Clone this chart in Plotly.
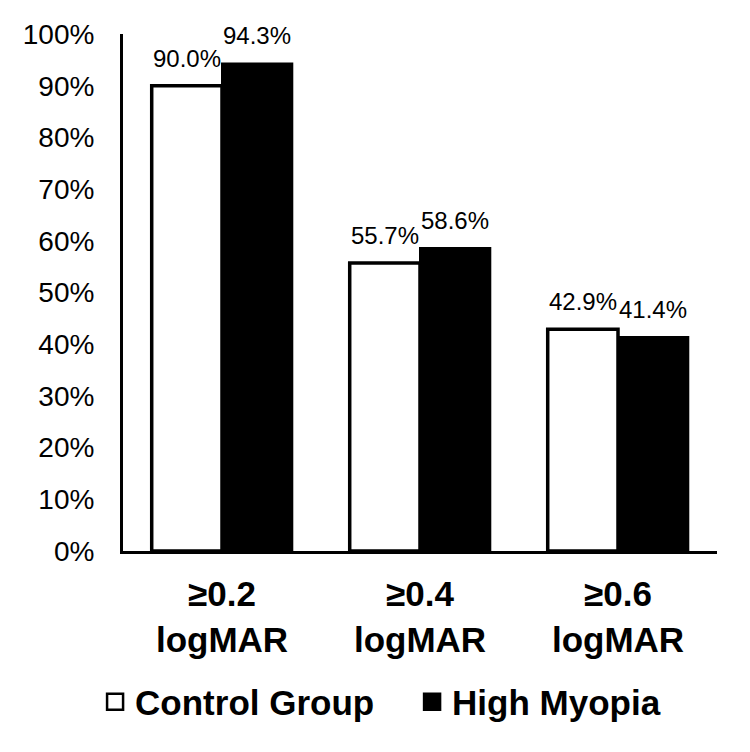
import plotly.graph_objects as go

categories = ["≥0.2<br>logMAR", "≥0.4<br>logMAR", "≥0.6<br>logMAR"]
control_vals = [0.900, 0.557, 0.429]
myopia_vals = [0.943, 0.586, 0.414]
series_names = ["Control Group", "High Myopia"]
ytick_vals = [0, 0.1, 0.2, 0.3, 0.4, 0.5, 0.6, 0.7, 0.8, 0.9, 1.0]
ytick_text = ["0%", "10%", "20%", "30%", "40%", "50%", "60%", "70%", "80%", "90%", "100%"]

FONT = "Arial, 'Liberation Sans', sans-serif"

fig = go.Figure()
fig.add_trace(go.Bar(
    x=categories, y=control_vals, name=series_names[0],
    marker=dict(color="white", line=dict(color="black", width=3.5)),
    showlegend=False,
))
fig.add_trace(go.Bar(
    x=categories, y=myopia_vals, name=series_names[1],
    marker=dict(color="black", line=dict(color="black", width=2)),
    showlegend=False,
))
# legend entries
fig.add_trace(go.Scatter(
    x=[None], y=[None], mode="markers", name=series_names[0],
    marker=dict(symbol="square", size=16, color="white", line=dict(color="black", width=2.5)),
))
fig.add_trace(go.Scatter(
    x=[None], y=[None], mode="markers", name=series_names[1],
    marker=dict(symbol="square", size=16, color="black", line=dict(color="black", width=2.5)),
))

annotations = []
for cat, cv, mv in zip(categories, control_vals, myopia_vals):
    for val, shift in ((cv, -35), (mv, 35)):
        annotations.append(dict(
            x=cat, y=val, xref="x", yref="y", text=f"{val*100:.1f}%",
            showarrow=False, xshift=shift, yshift=12, yanchor="bottom",
            font=dict(family=FONT, size=24, color="black"),
        ))

fig.update_layout(
    width=750, height=752,
    margin=dict(l=123, r=33, t=34, b=201),
    paper_bgcolor="white", plot_bgcolor="white",
    barmode="group", bargap=0.29, bargroupgap=0,
    font=dict(family=FONT, color="black"),
    annotations=annotations,
    showlegend=True,
    legend=dict(
        orientation="h", x=-0.047, xanchor="left", y=-0.292, yanchor="middle",
        font=dict(family=FONT, size=35, color="black", weight="bold"),
        entrywidth=272, entrywidthmode="pixels",
        itemclick=False,
    ),
    xaxis=dict(
        showline=True, linecolor="black", linewidth=3, showgrid=False,
        ticks="", tickfont=dict(family=FONT, size=35, color="black", weight="bold"),
        ticklabelstandoff=10,
    ),
    yaxis=dict(
        range=[0, 1], showline=True, linecolor="black", linewidth=3, showgrid=False,
        zeroline=False, ticks="", tickvals=ytick_vals, ticktext=ytick_text,
        tickfont=dict(family=FONT, size=28, color="black"),
        ticklabelstandoff=20,
    ),
)

fig.write_html("out.html")
